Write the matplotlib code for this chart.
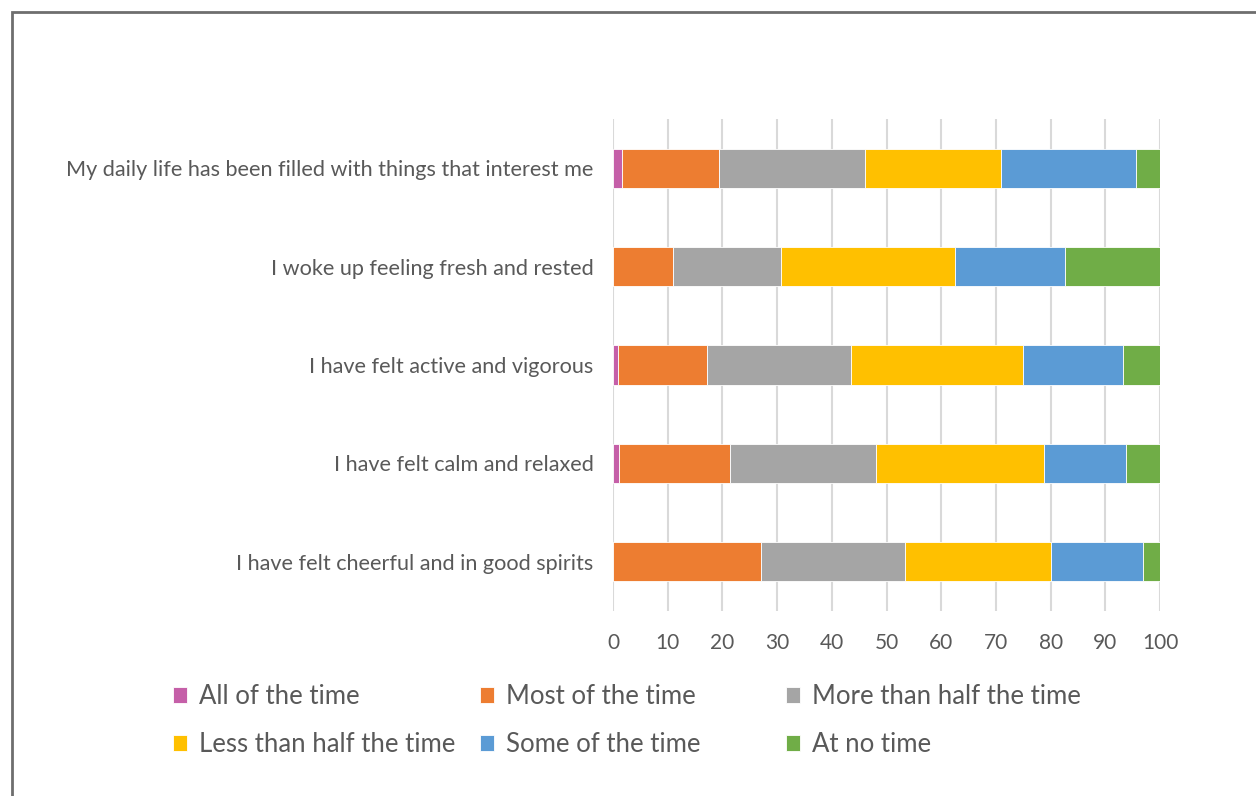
import matplotlib.pyplot as plt
import numpy as np
from matplotlib.patches import Rectangle

plt.rcParams["font.family"] = ["Lato", "DejaVu Sans"]

questions = [
    "I have felt cheerful and in good spirits",
    "I have felt calm and relaxed",
    "I have felt active and vigorous",
    "I woke up feeling fresh and rested",
    "My daily life has been filled with things that interest me",
]
responses = [
    "All of the time",
    "Most of the time",
    "More than half the time",
    "Less than half the time",
    "Some of the time",
    "At no time",
]
colors = ["#c55fa8", "#ed7d31", "#a5a5a5", "#ffc000", "#5b9bd5", "#70ad47"]

# percentage per response, one list per question (same order as questions)
all_time = [0.0, 1.1, 1.0, 0.0, 1.6]
most_time = [27.1, 20.2, 16.2, 10.9, 17.8]
more_half = [26.3, 26.7, 26.4, 19.8, 26.7]
less_half = [26.6, 30.8, 31.3, 31.8, 24.8]
some_time = [16.9, 14.9, 18.3, 20.2, 24.7]
no_time = [3.1, 6.3, 6.8, 17.3, 4.4]

series = [all_time, most_time, more_half, less_half, some_time, no_time]

fig = plt.figure(figsize=(12.56, 7.96), dpi=100)
ax = fig.add_axes([613 / 1256, 1 - 611 / 796, 547 / 1256, 492 / 796])

y = np.arange(len(questions))
left = np.zeros(len(questions))
handles = []
for vals, label, col in zip(series, responses, colors):
    vals = np.array(vals)
    h = ax.barh(y, vals, left=left, height=0.4, color=col, label=label,
                edgecolor="white", linewidth=0.6, zorder=3)
    handles.append(h)
    left += vals

ax.set_xlim(0, 100)
ax.set_ylim(-0.5, len(questions) - 0.5)
ax.set_xticks(np.arange(0, 101, 10))
ax.set_yticks(y)
ax.set_yticklabels(questions, fontsize=15.6)
ax.grid(axis="x", color="#d9d9d9", linewidth=1.5, zorder=0)
for side in ["top", "right", "bottom", "left"]:
    ax.spines[side].set_visible(False)
ax.tick_params(axis="both", length=0, colors="#595959")
ax.tick_params(axis="x", pad=16, labelsize=15)
ax.tick_params(axis="y", pad=14)

# legend laid out in three fixed columns, two rows each
col_x = [173 / 1256, 480 / 1256, 786 / 1256]
for i, cx in enumerate(col_x):
    leg = fig.legend([handles[i], handles[i + 3]], [responses[i], responses[i + 3]],
                     loc="upper left", bbox_to_anchor=(cx, 1 - 684 / 796),
                     frameon=False, fontsize=18.5, labelcolor="#595959",
                     handlelength=0.55, handleheight=0.55, handletextpad=0.45,
                     labelspacing=0.9, borderaxespad=0, borderpad=0)

# outer chart border
fig.patches.append(Rectangle((12 / 1256, -0.05), 1.1, 1 - 12 / 796 + 0.05,
                             transform=fig.transFigure, fill=False,
                             edgecolor="#6e6e6e", linewidth=2))

fig.savefig("out.png", dpi=100)
